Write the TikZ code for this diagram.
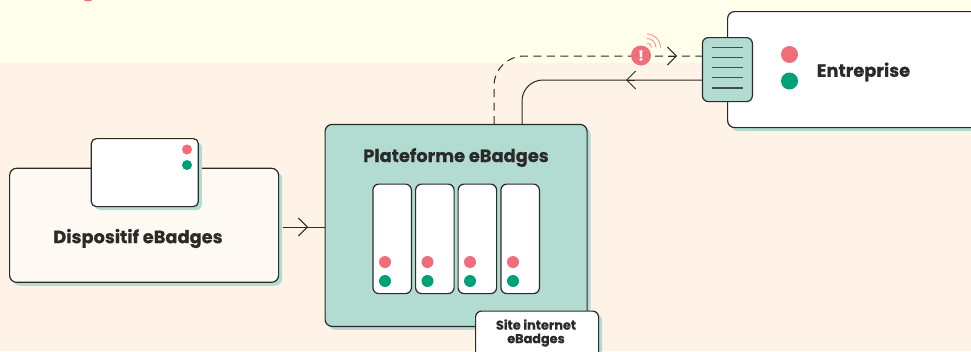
\documentclass[tikz,border=0pt]{standalone}
\usepackage{fontspec}
\setmainfont{Poppins}[BoldFeatures={FakeBold=0.5}]
\usetikzlibrary{arrows.meta,calc}
\definecolor{bgyellow}{HTML}{FFFFEC}
\definecolor{bgpeach}{HTML}{FFF3E8}
\definecolor{teal}{HTML}{B2DCD2}
\definecolor{pinkd}{HTML}{F16D7B}
\definecolor{greend}{HTML}{00A078}
\definecolor{ink}{HTML}{2A2A28}
\definecolor{cream}{HTML}{FFF9F3}
\tikzset{
  x=1pt,y=-1pt,
  boxa/.style={draw=ink,line width=1.2pt,rounded corners=7pt,inner sep=0pt,anchor=north west},
  shadowed/.style={preaction={fill=teal,draw=none,transform canvas={shift={(3.5pt,-3.5pt)}}}},
  pdot/.style={circle,fill=pinkd,inner sep=0pt,minimum size=#1},
  gdot/.style={circle,fill=greend,inner sep=0pt,minimum size=#1},
  wire/.style={draw=ink,line width=1pt},
  chev/.style={draw=ink,line width=1pt,-{Straight Barb[length=9pt,width=18pt,line width=1pt]}},
  title/.style={font=\bfseries\fontsize{17.8}{20}\selectfont,text=ink,inner sep=0pt},
  small/.style={font=\bfseries\fontsize{12.8}{14}\selectfont,text=ink,align=center,inner sep=0pt},
  slotbox/.style={boxa,fill=white,rounded corners=6pt,minimum width=38.5pt,minimum height=109.5pt},
  rule/.style={draw=ink,line width=1.2pt,opacity=.8},
}
\begin{document}
\begin{tikzpicture}
\useasboundingbox (0,0) rectangle (971,351);
\begin{scope}
\clip (0,0) rectangle (971,351);
\fill[bgyellow] (0,0) rectangle (971,63);
\fill[bgpeach] (0,63) rectangle (971,351);
\node[pdot=14pt] (topdot) at (88,-5.5) {};

\node[boxa,shadowed,fill=teal,minimum width=262pt,minimum height=202pt] (plat) at (324.5,123.8) {};
\node[boxa,shadowed,fill=cream,minimum width=269pt,minimum height=114pt] (disp) at (9,167.7) {};
\node[boxa,shadowed,fill=white,minimum width=107pt,minimum height=68pt,rounded corners=5pt] (card) at (90.7,138) {};
\node[boxa,shadowed,fill=white,minimum width=270pt,minimum height=116pt] (ent) at (727,11) {};
\node[boxa,fill=teal,minimum width=50pt,minimum height=64pt,rounded corners=6pt] (chip) at (701.8,37) {};

\node[title] (disptxt) at (138,238.5) {Dispositif eBadges};
\node[title] (plattxt) at (456,157.5) {Plateforme eBadges};
\node[title] (enttxt) at (863.5,72) {Entreprise};

\node[pdot=10pt] (c1) at (187,149.5) {};
\node[gdot=10pt] (c2) at (187,165) {};
\node[pdot=17pt] (e1) at (789.5,54.5) {};
\node[gdot=17pt] (e2) at (789.5,81) {};

\node[slotbox] (s1) at (372.3,183.5) {};
\node[slotbox] (s2) at (415,183.5) {};
\node[slotbox] (s3) at (457.5,183.5) {};
\node[slotbox] (s4) at (500.3,183.5) {};
\foreach \n/\x in {1/385,2/427.5,3/470,4/513}{
  \node[pdot=12pt] (p\n) at (\x,262) {};
  \node[gdot=12pt] (g\n) at (\x,281) {};
}
\node[boxa,shadowed,fill=white,minimum width=123pt,minimum height=60pt,rounded corners=6pt] (site) at (475,310.5) {};
\node[small] (sitetxt) at (536,333) {Site internet\\[-0.5pt]eBadges};

\foreach \n/\y in {1/47.5,2/57.5,3/67.5,4/77.5,5/88}{
  \coordinate (la\n) at (712,\y);
  \coordinate (lb\n) at (743,\y);
  \draw[rule] (la\n) -- (lb\n);
}

% connectors
\coordinate (d0) at (494,124);
\coordinate (dt) at (677,56);
\coordinate (dm) at (668,56);
\draw[wire,dash pattern=on 8pt off 5.5pt,rounded corners=30pt] (d0) -- (494,56) -- (chip.west |- dt);
\draw[chev] (dm) -- (dt);
\coordinate (st) at (626,80);
\coordinate (s0) at (522,124);
\draw[wire,rounded corners=21pt] (s0) -- (522,80) -- (chip.west |- st);
\coordinate (sm) at (635,80);
\draw[chev] (sm) -- (st);
\coordinate (at) at (308,227);
\coordinate (am) at (299,227);
\coordinate (ar) at ($(disp.east |- at)+(4,0)$);
\draw[wire] (ar) -- (plat.west |- at);
\draw[chev] (am) -- (at);

% alert
\node[pdot=20pt,font=\bfseries\fontsize{14}{14}\selectfont,text=white] (alert) at (641,55.5) {!};
\coordinate (wc) at (647,47.5);
\foreach \r in {4.5,9,13.5}{
  \draw[pinkd!75,line width=.9pt] ($(wc)+(0,-\r)$) arc[start angle=-90,end angle=0,radius=\r];
}
\end{scope}
\end{tikzpicture}
\end{document}
